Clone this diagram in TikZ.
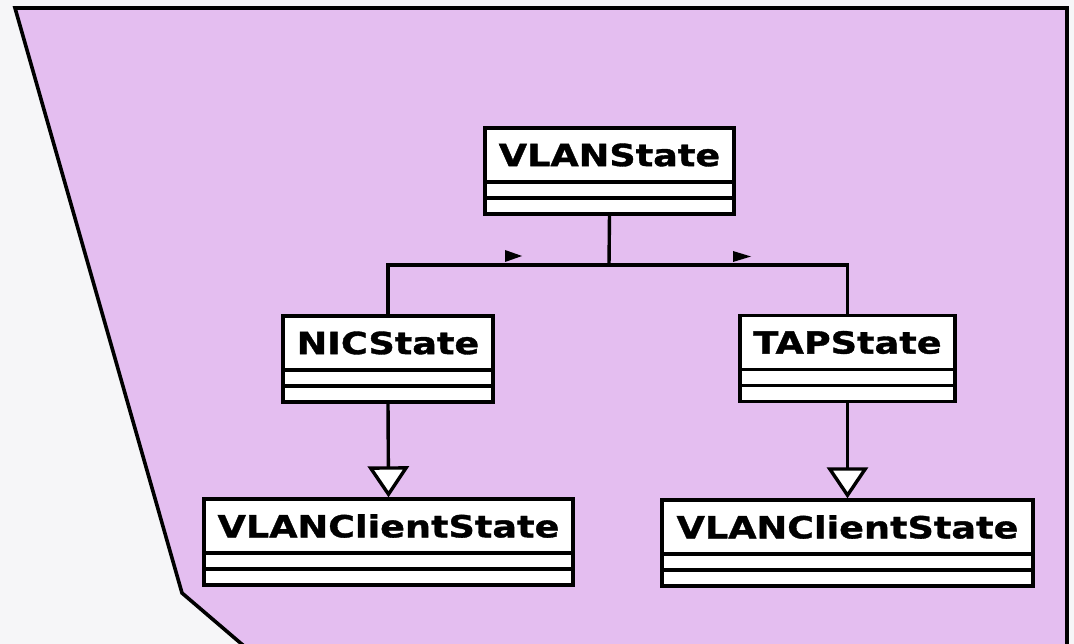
\documentclass[tikz,border=0pt]{standalone}
\usepackage{fontspec}
\usetikzlibrary{arrows.meta}
\newfontfamily\umlfont[FakeStretch=1.2, BoldFeatures={FakeBold=1.2}]{DejaVu Sans}
\definecolor{pagebg}{HTML}{F6F6F8}
\definecolor{pkgfill}{HTML}{E4BEF0}
\tikzset{
  classname/.style={draw, line width=3.4pt, fill=white, minimum height=54pt,
    inner sep=0pt, outer sep=0pt,
    font=\umlfont\bfseries\fontsize{30.5}{30.5}\selectfont},
  classbox/.style={draw, line width=3.4pt, fill=white},
  conn/.style={draw, line width=3.4pt},
  inherit/.style={conn, -{Triangle[fill=white, length=31pt, width=41pt]}},
}
% one UML class: name compartment plus two empty compartments below it
\newcommand\umlclass[4]{%
  \node[classname, minimum width=#3] (#1) at #2 {#4};
  \draw[classbox] (#1.south west) rectangle ([yshift=-16pt]#1.south east);
  \draw[classbox] ([yshift=-16pt]#1.south west) rectangle ([yshift=-32pt]#1.south east);
  \coordinate (#1-b) at ([yshift=-32pt]#1.south);
}
\begin{document}
\begin{tikzpicture}[x=1pt, y=-1pt]
  \useasboundingbox (0,0) rectangle (1074,644);
  \clip (0,0) rectangle (1074,644);
  \fill[pagebg] (0,0) rectangle (1074,644);
  % package outline
  \filldraw[fill=pkgfill, line width=3.6pt, line join=miter]
    (15,8) -- (1067,8) -- (1067,670) -- (272,670) -- (182,593) -- cycle;

  % classes
  \umlclass{vs}{(609.5,155)}{249pt}{VLANState}
  \umlclass{nic}{(388,343)}{210pt}{NICState}
  \umlclass{tap}{(847.5,342.5)}{215pt}{TAPState}
  \umlclass{clA}{(388.5,526)}{369pt}{VLANClientState}
  \umlclass{clB}{(847.5,527)}{371pt}{VLANClientState}

  % association tree from VLANState
  \coordinate (junc) at (609,265);
  \draw[conn] (vs-b) -- (junc);
  \draw[conn] (junc) -| (nic.north);
  \draw[conn] (junc) -| (tap.north);
  \fill[shift={(junc)}] (-104,-15) -- (-87,-9) -- (-104,-3) -- cycle;
  \fill[shift={(junc)}] (124,-14) -- (142,-8.5) -- (124,-3) -- cycle;

  % generalisations
  \draw[inherit] (nic-b) -- ([yshift=1.7pt]clA.north);
  \draw[inherit] (tap-b) -- ([yshift=1.7pt]clB.north);
\end{tikzpicture}
\end{document}
